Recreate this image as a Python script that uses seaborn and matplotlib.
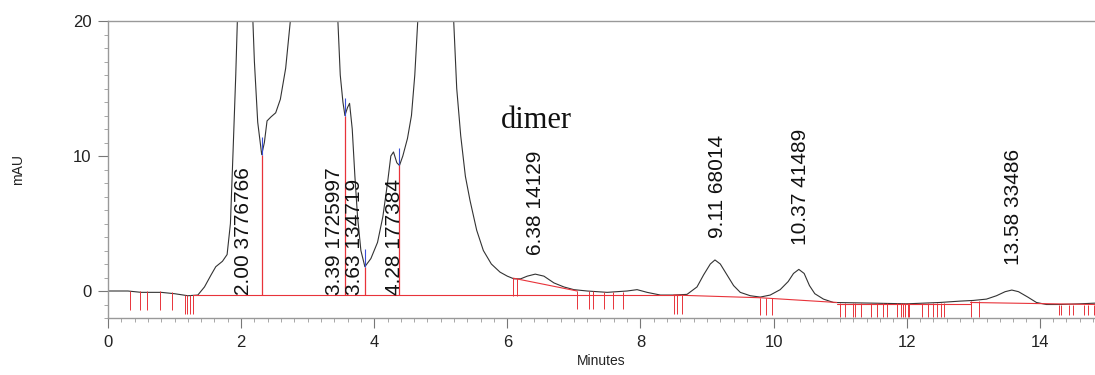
import matplotlib
matplotlib.use("Agg")
import matplotlib.pyplot as plt
from matplotlib.ticker import MultipleLocator
import pandas as pd
import seaborn as sns

# chromatogram trace (minutes, mAU); big peaks run off the top
time_min = [0.0, 0.3, 0.5, 0.8, 1.0, 1.2, 1.35, 1.45, 1.55, 1.62, 1.72, 1.79, 1.84, 1.88,
            1.92, 1.95, 2.05, 2.17, 2.2, 2.25, 2.31, 2.35, 2.39, 2.45, 2.52, 2.59, 2.67,
            2.75, 3.1, 3.45, 3.49, 3.53, 3.56, 3.6, 3.63, 3.67, 3.71, 3.75, 3.8, 3.86,
            3.95, 4.05, 4.13, 4.2, 4.25, 4.29, 4.34, 4.38, 4.43, 4.5, 4.56, 4.61, 4.66,
            4.9, 5.19, 5.24, 5.3, 5.37, 5.44, 5.54, 5.64, 5.76, 5.89, 6.0, 6.1, 6.2,
            6.3, 6.42, 6.55, 6.7, 6.85, 7.0, 7.2, 7.5, 7.8, 7.95, 8.1, 8.3, 8.5, 8.7,
            8.85, 8.95, 9.05, 9.12, 9.2, 9.3, 9.4, 9.5, 9.65, 9.8, 9.95, 10.1, 10.22,
            10.3, 10.38, 10.46, 10.54, 10.62, 10.75, 10.9, 11.5, 12.0, 12.5, 12.8,
            13.0, 13.2, 13.35, 13.48, 13.58, 13.68, 13.82, 13.95, 14.1, 14.3, 14.6, 14.83]
signal_mau = [0.0, 0.0, -0.1, -0.1, -0.2, -0.35, -0.3, 0.3, 1.2, 1.8, 2.2, 2.7, 5.0, 10.4,
              16.0, 21, 40, 21, 17.0, 12.5, 10.1, 11.0, 12.6, 12.9, 13.2, 14.2, 16.5,
              20.5, 40, 20.5, 16.0, 14.0, 13.0, 13.6, 13.9, 12.0, 8.5, 5.5, 3.0, 1.8,
              2.4, 3.6, 5.5, 8.0, 10.0, 10.3, 9.5, 9.3, 10.0, 11.3, 13.0, 16.0, 20.5,
              40, 20.5, 15.0, 11.5, 8.5, 6.7, 4.5, 3.0, 2.0, 1.4, 1.1, 0.9, 0.9,
              1.1, 1.25, 1.1, 0.6, 0.3, 0.1, 0.0, -0.1, 0.0, 0.1, -0.1, -0.3, -0.3, -0.25,
              0.3, 1.2, 2.0, 2.3, 2.0, 1.2, 0.4, -0.1, -0.35, -0.45, -0.3, 0.1, 0.7,
              1.3, 1.6, 1.3, 0.4, -0.2, -0.6, -0.85, -0.9, -0.95, -0.85, -0.75,
              -0.7, -0.6, -0.35, -0.05, 0.07, -0.05, -0.45, -0.85, -1.0, -1.0, -0.95, -0.9]

# integration baselines (red)
base_x0 = [1.28, 6.09, 8.50, 9.80, 10.95, 12.96]
base_y0 = [-0.3, 0.95, -0.3, -0.5, -0.95, -0.85]
base_x1 = [8.60, 7.05, 9.80, 10.95, 12.96, 14.83]
base_y1 = [-0.3, 0.0, -0.5, -0.85, -0.95, -1.0]

# drop lines at valleys
drop_x = [2.31, 3.56, 3.86, 4.38]
drop_top = [10.1, 13.0, 1.8, 9.3]
drop_bottom = -0.3

# integration event ticks
event_x = [0.33, 0.48, 0.59, 0.78, 0.96, 1.16, 1.19, 1.23, 1.28,
           6.09, 6.15,
           7.05, 7.22, 7.29, 7.46, 7.59, 7.74,
           8.50, 8.55, 8.62,
           9.80, 9.88, 9.97,
           11.0, 11.08, 11.19, 11.23, 11.32, 11.46, 11.56, 11.64, 11.71, 11.86, 11.91,
           11.95, 11.98, 12.02, 12.03, 12.23, 12.32, 12.40, 12.46, 12.51, 12.56,
           12.96, 13.08,
           14.29, 14.32, 14.44, 14.50, 14.66, 14.72, 14.81]
event_top = [0.0, 0.0, 0.0, 0.0, -0.1, -0.3, -0.3, -0.3, -0.3,
             0.95, 0.95,
             0.0, 0.0, 0.0, -0.05, -0.1, -0.1,
             -0.3, -0.3, -0.3,
             -0.5, -0.5, -0.5,
             -0.9, -0.9, -0.9, -0.9, -0.9, -0.9, -0.9, -0.9, -0.9, -0.9, -0.9,
             -0.9, -0.9, -0.9, -0.9, -0.9, -0.9, -0.9, -0.9, -0.9, -0.9,
             -0.75, -0.75,
             -1.0, -1.0, -1.0, -1.0, -1.0, -1.0, -1.0]
event_bottom = [-1.4, -1.4, -1.4, -1.4, -1.4, -1.7, -1.7, -1.7, -1.7,
                -0.4, -0.4,
                -1.3, -1.3, -1.3, -1.3, -1.3, -1.3,
                -1.7, -1.7, -1.7,
                -1.8, -1.8, -1.8,
                -1.9, -1.9, -1.9, -1.9, -1.9, -1.9, -1.9, -1.9, -1.9, -1.9, -1.9,
                -1.9, -1.9, -1.9, -1.9, -1.9, -1.9, -1.9, -1.9, -1.9, -1.9,
                -1.9, -1.9,
                -1.8, -1.8, -1.8, -1.8, -1.8, -1.8, -1.8]

# peak annotations: retention time and area
label_x = [2.03, 3.41, 3.71, 4.31, 6.43, 9.16, 10.40, 13.60]
label_y = [-0.3, -0.3, -0.3, -0.3, 2.7, 3.9, 3.4, 1.9]
label_text = ["2.00 3776766", "3.39 1725997", "3.63 134719", "4.28 177384",
              "6.38 14129", "9.11 68014", "10.37 41489", "13.58 33486"]

sns.set_theme(style="ticks")
plt.rcParams['font.family'] = ['Liberation Sans', 'DejaVu Sans']

fig = plt.figure(figsize=(10.95, 3.75), dpi=100)
ax = fig.add_axes([0.0986, 0.152, 0.9014, 0.792])

trace = pd.DataFrame({'Minutes': time_min, 'mAU': signal_mau})
sns.lineplot(data=trace, x='Minutes', y='mAU', sort=False, estimator=None,
             color='#333333', linewidth=0.8, ax=ax)

red = '#e8333a'
for x0, y0, x1, y1 in zip(base_x0, base_y0, base_x1, base_y1):
    ax.plot([x0, x1], [y0, y1], color=red, linewidth=0.8)
ax.vlines(drop_x, drop_bottom, drop_top, color=red, linewidth=0.9)
ax.vlines(drop_x, drop_top, [t + 1.3 for t in drop_top], color='#3b4fd8', linewidth=0.8)
ax.vlines(event_x, event_bottom, event_top, color=red, linewidth=0.7)

for x, y, t in zip(label_x, label_y, label_text):
    ax.text(x, y, t, rotation=90, ha='center', va='bottom', fontsize=15, color='#111111')

ax.text(6.44, 12.6, 'dimer', family='Liberation Serif', fontsize=22,
        ha='center', va='center', color='#111111')

ax.set_xlim(0, 14.83)
ax.set_ylim(-2, 20)
ax.xaxis.set_major_locator(MultipleLocator(2))
ax.xaxis.set_minor_locator(MultipleLocator(0.2))
ax.yaxis.set_major_locator(MultipleLocator(10))
ax.yaxis.set_minor_locator(MultipleLocator(1))
ax.tick_params(axis='both', which='major', labelsize=12, colors='#777777',
               labelcolor='#222222', length=7, width=0.8, pad=5)
ax.tick_params(axis='both', which='minor', colors='#999999', length=3, width=0.6)

for side in ['left', 'bottom', 'top']:
    ax.spines[side].set_color('#999999')
    ax.spines[side].set_linewidth(1.0)
ax.spines['right'].set_visible(False)

ax.set_xlabel('Minutes', fontsize=10, color='#222222', labelpad=3)
ax.set_ylabel('mAU', fontsize=10, color='#222222', labelpad=34)

fig.savefig('out.png', dpi=100)
